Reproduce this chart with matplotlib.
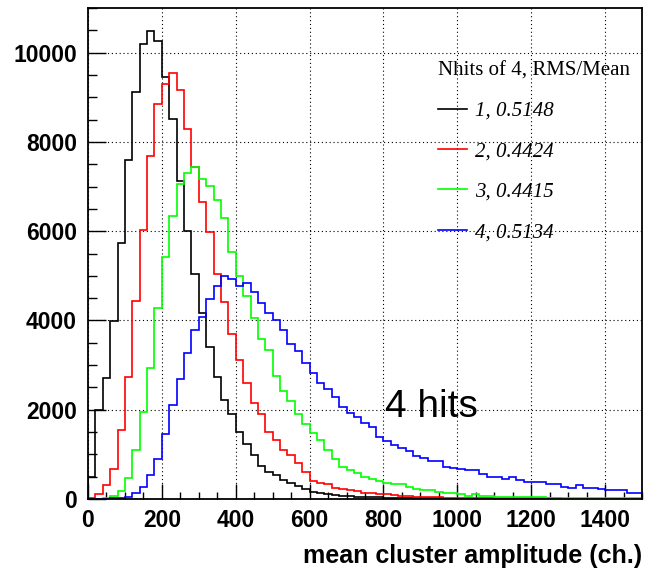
import numpy as np
import matplotlib
matplotlib.use("Agg")
import matplotlib.pyplot as plt
from matplotlib import font_manager
from matplotlib.ticker import MultipleLocator

# ---------------- data (bin width 20, range 0..1500) ----------------
bin_edges_start = 0
bin_width = 20
n_bins = 75

hits1 = [500, 1995, 2720, 3991, 5733, 7600, 9110, 10201, 10477, 10253,
         9460, 8505, 7114, 6012, 5030, 4163, 3415, 2742, 2220, 1900,
         1510, 1230, 986, 735, 613, 538, 426, 366, 291, 217,
         164, 127, 105, 90, 67, 67, 52, 45, 40, 36,
         30, 28, 22, 20, 18, 15, 14, 12, 10, 10,
         9, 8, 7, 7, 6, 5, 6, 4, 4, 3,
         3, 3, 2, 2, 2, 1, 2, 1, 1, 1,
         1, 0, 1, 0, 0]
hits2 = [30, 120, 314, 680, 1535, 2742, 4439, 6016, 7680, 8840,
         9297, 9550, 9154, 8280, 7428, 6643, 5980, 5037, 4424, 3695,
         3125, 2593, 2145, 1910, 1495, 1323, 1099, 986, 800, 613,
         404, 366, 329, 239, 217, 202, 187, 142, 127, 112,
         105, 90, 75, 60, 52, 45, 40, 37, 33, 30,
         28, 26, 24, 22, 20, 20, 18, 17, 15, 15,
         14, 13, 12, 12, 11, 10, 10, 9, 8, 8,
         7, 7, 6, 6, 5]
hits3 = [0, 8, 22, 67, 187, 463, 1099, 1958, 2944, 4275,
         5425, 6350, 7060, 7310, 7430, 7180, 7002, 6700, 6293, 5540,
         5003, 4551, 4065, 3587, 3341, 2765, 2429, 2204, 1898, 1674,
         1472, 1323, 1099, 889, 710, 650, 575, 501, 448, 411,
         366, 340, 329, 277, 224, 202, 202, 164, 142, 142,
         105, 75, 105, 75, 75, 52, 52, 50, 52, 50,
         52, 48, 30, 32, 30, 28, 30, 30, 28, 30,
         27, 25, 28, 24, 25]
hits4 = [0, 0, 10, 15, 25, 45, 145, 277, 538, 905,
         1460, 2100, 2690, 3275, 3795, 4088, 4470, 4768, 5004, 4935,
         4780, 4835, 4630, 4402, 4163, 4005, 3789, 3475, 3326, 3042,
         2817, 2593, 2459, 2279, 2070, 1935, 1846, 1696, 1622, 1397,
         1290, 1200, 1151, 1076, 964, 912, 859, 859, 725, 688,
         665, 650, 650, 553, 501, 501, 448, 486, 426, 374,
         374, 374, 336, 336, 277, 247, 314, 254, 254, 224,
         194, 194, 194, 142, 142]

series = [hits1, hits2, hits3, hits4]
labels = ["1, 0.5148", "2, 0.4424", "3, 0.4415", "4, 0.5134"]
colors = ["#000000", "#ff0000", "#00ff00", "#0000ff"]
legend_title = "Nhits of 4, RMS/Mean"
xlabel = "mean cluster amplitude (ch.)"
annotation = "4 hits"
xticks = [0, 200, 400, 600, 800, 1000, 1200, 1400]
yticks = [0, 2000, 4000, 6000, 8000, 10000]

# ---------------- fonts ----------------
names = {f.name for f in font_manager.fontManager.ttflist}
if "Liberation Sans Narrow" in names:
    bold_family = "Liberation Sans Narrow"
    tick_size = 19
    label_size = 21.5
else:
    bold_family = "Liberation Sans"
    tick_size = 16.5
    label_size = 18

edges = np.arange(n_bins + 1) * bin_width + bin_edges_start

fig = plt.figure(figsize=(6.46, 5.72), dpi=100)
ax = fig.add_axes([88 / 646, 1 - 499 / 572, (642 - 88) / 646, (499 - 8) / 572])

for vals, lab, col in zip(series, labels, colors):
    ax.stairs(vals, edges, color=col, linewidth=1.2, label=lab, baseline=0)

ax.set_xlim(0, 1500)
ax.set_ylim(0, 11000)

ax.xaxis.set_major_locator(MultipleLocator(200))
ax.xaxis.set_minor_locator(MultipleLocator(50))
ax.yaxis.set_major_locator(MultipleLocator(2000))
ax.yaxis.set_minor_locator(MultipleLocator(500))
ax.set_xticks(xticks)
ax.set_yticks(yticks)
ax.set_xticklabels([str(t) for t in xticks])
ax.set_yticklabels([str(t) for t in yticks])

ax.tick_params(axis="both", which="both", direction="in", top=False, right=False, width=1.0)
ax.tick_params(axis="x", which="major", length=11, pad=7)
ax.tick_params(axis="x", which="minor", length=5)
ax.tick_params(axis="y", which="major", length=13, pad=8)
ax.tick_params(axis="y", which="minor", length=6.5)

for lab in ax.get_xticklabels() + ax.get_yticklabels():
    lab.set_fontfamily(bold_family)
    lab.set_fontweight("bold")
    lab.set_fontsize(tick_size)

ax.grid(True, which="major", color="black", linestyle=(0, (1, 2.5)), linewidth=0.8)
ax.set_axisbelow(True)

for sp in ax.spines.values():
    sp.set_linewidth(1.3)

ax.set_xlabel(xlabel, fontfamily=bold_family, fontweight="bold", fontsize=label_size,
              loc="right", labelpad=9)

ax.text(803, 1838, annotation, fontfamily="Liberation Sans", fontsize=28,
        va="baseline", ha="left")

leg = ax.legend(handles=[plt.Line2D([], [], color=c, lw=1.2) for c in colors],
                labels=labels, title=legend_title, loc="upper left",
                bbox_to_anchor=(0.632, 0.891), frameon=False,
                prop={"family": "Liberation Serif", "style": "italic", "size": 15},
                title_fontproperties={"family": "Liberation Serif", "size": 15},
                alignment="left", handlelength=1.4, handletextpad=0.35,
                labelspacing=1.0, borderpad=0, borderaxespad=0)

fig.savefig("out.png", dpi=100)
